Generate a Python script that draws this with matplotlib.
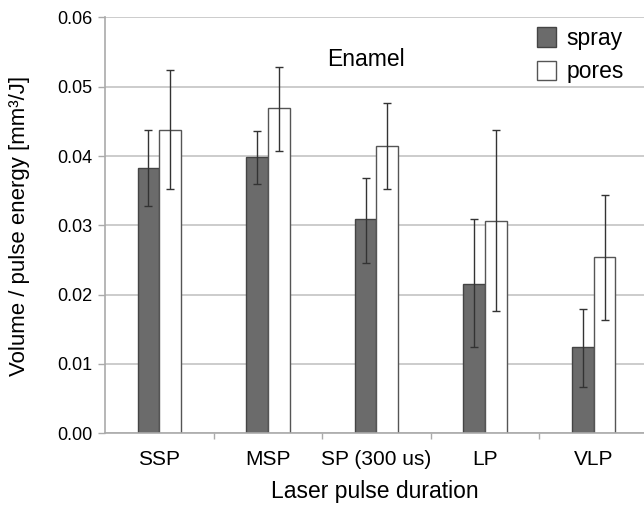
#!/usr/bin/env python3
# enamel_bars.py

import matplotlib
matplotlib.use("Agg")
import matplotlib.pyplot as plt
import numpy as np

plt.rcParams["font.family"] = ["Liberation Sans", "DejaVu Sans"]

# Data
categories = ["SSP", "MSP", "SP (300 us)", "LP", "VLP"]
spray = [0.0383, 0.0399, 0.0309, 0.0216, 0.0124]
spray_lo = [0.0328, 0.0360, 0.0246, 0.0124, 0.0067]
spray_hi = [0.0438, 0.0436, 0.0369, 0.0309, 0.0179]
pores = [0.0438, 0.0469, 0.0415, 0.0307, 0.0254]
pores_lo = [0.0352, 0.0408, 0.0352, 0.0177, 0.0163]
pores_hi = [0.0524, 0.0528, 0.0477, 0.0438, 0.0344]
y_ticks = [0.00, 0.01, 0.02, 0.03, 0.04, 0.05, 0.06]


def plot(fig, ax):
    x = np.arange(len(categories))
    w = 0.2

    sp = np.array(spray)
    po = np.array(pores)
    sp_err = [sp - np.array(spray_lo), np.array(spray_hi) - sp]
    po_err = [po - np.array(pores_lo), np.array(pores_hi) - po]

    ekw = dict(ecolor="#333333", elinewidth=1.0, capsize=3, capthick=1.0)
    ax.bar(x - w / 2, sp, w, color="#6b6b6b", edgecolor="#444444",
           linewidth=1.0, yerr=sp_err, error_kw=ekw, label="spray", zorder=2)
    ax.bar(x + w / 2, po, w, color="white", edgecolor="#555555",
           linewidth=1.0, yerr=po_err, error_kw=ekw, label="pores", zorder=2)

    ax.set_xlim(-0.5, -0.5 + 539 / 108.6)
    ax.set_ylim(0, 0.06)
    ax.set_yticks(y_ticks)
    ax.set_yticklabels([f"{v:.2f}" for v in y_ticks], fontsize=13)
    ax.set_xticks(x)
    ax.set_xticklabels(categories, fontsize=15)
    ax.set_xticks(x[:-1] + 0.5, minor=True)
    ax.tick_params(axis="x", which="major", length=0, pad=12)
    ax.tick_params(axis="x", which="minor", length=4, color="#aaaaaa", width=1)
    ax.tick_params(axis="y", length=5, color="#aaaaaa", width=1, pad=4)

    ax.yaxis.grid(True, color="#c4c4c4", linewidth=1.2)
    ax.set_axisbelow(True)
    for s in ["top", "right"]:
        ax.spines[s].set_visible(False)
    for s in ["left", "bottom"]:
        ax.spines[s].set_color("#aaaaaa")
        ax.spines[s].set_linewidth(1.2)

    ax.set_xlabel("Laser pulse duration", fontsize=16.5, labelpad=8)

    fig.text(20 / 644, 1 - 226 / 505, "Volume / pulse energy [mm³/J]",
             fontsize=16, rotation=90, ha="center", va="center")

    fig.text(366 / 644, 1 - 59 / 505, "Enamel", fontsize=16.5,
             ha="center", va="center")

    ax.legend(loc="upper left", bbox_to_anchor=(537 / 644, 1 - 27 / 505),
              bbox_transform=fig.transFigure, frameon=False, fontsize=16.5,
              handlelength=0.85, handleheight=0.95, handletextpad=0.45,
              labelspacing=0.45, borderpad=0, borderaxespad=0)


def main():
    fig = plt.figure(figsize=(6.44, 5.05), dpi=100)
    ax = fig.add_axes([105 / 644, 1 - 433.3 / 505, 1 - 105 / 644,
                       (433.3 - 17.5) / 505])
    plot(fig, ax)
    fig.savefig("out.png", dpi=100)


if __name__ == "__main__":
    main()
